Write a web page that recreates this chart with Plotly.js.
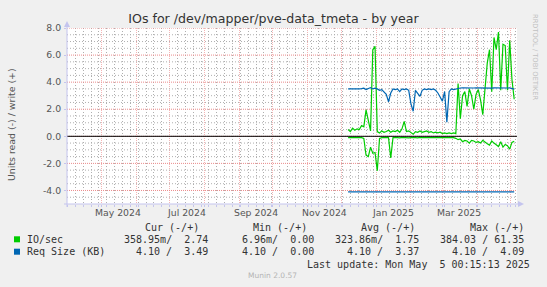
<!DOCTYPE html>
<html><head><meta charset="utf-8">
<script src="https://cdn.plot.ly/plotly-3.0.1.min.js"></script>
<style>html,body{margin:0;padding:0;background:#F0F0F0;overflow:hidden}#chart{width:547px;height:287px}</style>
</head><body><div id="chart"></div>
<script>
// ---- data (daily RRA sampled every 2 days, starting at seriesStart) ----
const seriesStart = '2024-12-07';
const stepDays = 2;
// IO/sec write (+)
const ioWrite = [0.50,0.35,0.60,0.45,0.55,0.50,0.80,0.70,1.95,1.25,
                 0.40,6.40,6.65,0.35,0.25,0.40,0.30,0.35,0.45,0.30,
                 0.40,0.35,0.45,0.30,0.55,1.10,0.35,0.40,0.30,0.15,
                 0.35,0.30,0.40,0.30,0.35,0.40,0.30,0.35,0.25,0.30,
                 0.25,0.30,0.20,0.25,0.20,0.25,0.20,0.25,0.20,3.90,
                 1.30,3.00,3.30,2.20,3.50,3.00,2.00,3.10,3.45,2.70,
                 1.60,3.30,5.40,6.40,3.30,7.30,6.40,7.70,3.40,6.80,
                 6.70,3.40,7.10,4.20,2.74];
// IO/sec read (-), drawn below zero
const ioRead = [0.10,0.08,0.10,0.08,0.10,0.08,0.10,0.15,1.40,1.50,
                0.80,1.25,1.20,2.55,0.15,0.10,0.10,0.12,0.10,1.60,
                0.10,0.08,0.10,0.12,0.08,0.10,0.08,0.12,0.10,0.08,
                0.10,0.12,0.08,0.10,0.10,0.12,0.08,0.10,0.12,0.10,
                0.08,0.12,0.10,0.10,0.12,0.10,0.12,0.10,0.15,0.25,
                0.20,0.40,0.30,0.35,0.50,0.30,0.35,0.45,0.40,0.50,
                0.30,0.45,0.55,0.65,0.35,0.50,0.60,0.75,0.40,0.80,
                0.60,0.70,0.95,0.45,0.36];
// Req Size (KB) write (+)
const reqWrite = [3.50,3.50,3.48,3.50,3.45,3.50,3.52,3.55,3.45,3.55,
                  3.60,3.50,3.55,3.50,3.40,3.45,3.30,3.10,2.55,3.20,
                  3.50,3.45,3.50,3.30,3.50,3.45,3.50,3.40,2.40,1.85,
                  3.40,3.20,2.95,3.40,3.50,3.45,3.50,3.45,3.50,3.40,
                  3.20,2.90,2.60,3.30,1.05,3.30,3.50,3.45,3.50,3.57,
                  3.57,3.58,3.57,3.56,3.58,3.57,3.57,3.58,3.57,3.56,
                  3.57,3.58,3.57,3.57,3.56,3.58,3.57,3.57,3.58,3.57,
                  3.56,3.57,3.58,3.55,3.49];
// Req Size (KB) read (-), drawn below zero
const reqRead = [4.10,4.10,4.10,4.10,4.10,4.10,4.10,4.10,4.10,4.10,
                 4.10,4.10,4.10,4.10,4.10,4.10,4.10,4.10,4.10,4.10,
                 4.10,4.10,4.10,4.10,4.10,4.10,4.10,4.10,4.10,4.10,
                 4.10,4.10,4.10,4.10,4.10,4.10,4.10,4.10,4.10,4.10,
                 4.10,4.10,4.10,4.10,4.10,4.10,4.10,4.10,4.10,4.10,
                 4.10,4.10,4.10,4.10,4.10,4.10,4.10,4.10,4.10,4.10,
                 4.10,4.10,4.10,4.10,4.10,4.10,4.10,4.10,4.10,4.10,
                 4.10,4.10,4.10,4.10,4.10];

const monthLabels = ['May 2024','Jul 2024','Sep 2024','Nov 2024','Jan 2025','Mar 2025'];
const monthLabelDates = ['2024-05-16','2024-07-16','2024-09-16','2024-11-16','2025-01-16','2025-03-16'];
const yTickVals = [-4,-2,0,2,4,6,8];
const yTickText = ['-4.0','-2.0','0.0','2.0','4.0','6.0','8.0'];
const legendNames = ['IO/sec','Req Size (KB)'];
const legendHeaders = ['Cur (-/+)','Min (-/+)','Avg (-/+)','Max (-/+)'];
const ioStats = ['358.95m/  2.74','6.96m/  0.00','323.86m/  1.75','384.03 / 61.35'];
const reqStats = ['4.10 /  3.49','4.10 /  0.00','4.10 /  3.37','4.10 /  4.09'];
const lastUpdate = 'Last update: Mon May  5 00:15:13 2025';
const titleText = 'IOs for /dev/mapper/pve-data_tmeta - by year';
const yTitle = 'Units read (-) / write (+)';

// ---- build ----
const GREEN = '#00CC00', BLUE = '#0066B3';
const W=547, H=287, L=67, R=30, T=28, B=83;
const pw = W-L-R, ph = H-T-B;
const px = x => (x-L)/pw;
const py = y => (H-B-y)/ph;
const Y0 = -5, Y1 = 8;
const XR = ['2024-03-31 12:00','2025-05-06 12:00'];

const t0 = Date.parse(seriesStart + 'T00:00:00Z');
const dates = ioWrite.map((_, i) => new Date(t0 + i*stepDays*86400000).toISOString().slice(0,10));
const neg = a => a.map(v => -v);

const AX = '#c4c4ee';
const MAJ = 'rgba(235,120,120,0.55)';
const MIN = 'rgba(110,110,110,0.55)';
const HMAJ = 'rgb(236,140,140)';
const HMIN = 'rgb(175,175,175)';
const tickFont = {family:'DejaVu Sans', size:9.3, color:'#555'};
const monoFont = {family:'DejaVu Sans Mono', size:10, color:'#333'};

// horizontal grid drawn as background line traces (minor every 0.5, major every 2)
const gridTraces = [];
for (let k = 1; k <= (Y1 - Y0) * 2; k++) {
  const v = Y0 + k * 0.5;
  const major = Math.abs(v / 2 - Math.round(v / 2)) < 1e-9;
  gridTraces.push({x: XR, y: [v, v], type:'scatter', mode:'lines', hoverinfo:'skip', showlegend:false,
    line:{color: major ? HMAJ : HMIN, width:1, dash: major ? '1px,1px' : '1px,2px'}});
}

const line = (y, color) => ({x: dates, y: y, type:'scatter', mode:'lines',
  line:{color: color, width:1.2}, hoverinfo:'skip', showlegend:false});
const traces = gridTraces.concat([
  line(neg(ioRead), GREEN), line(ioWrite, GREEN),
  line(neg(reqRead), BLUE), line(reqWrite, BLUE)
]);

const annotations = [];
monthLabels.forEach((t,i) => annotations.push({x: monthLabelDates[i], xref:'x', y: py(213), yref:'paper',
  text:t, showarrow:false, xanchor:'center', yanchor:'middle', font:tickFont}));
annotations.push({x: px(11), y: py(125), xref:'paper', yref:'paper', text: yTitle, textangle:-90,
  showarrow:false, xanchor:'center', yanchor:'middle', font:{family:'DejaVu Sans', size:9.4, color:'#555'}});
annotations.push({x: px(535.5), y: py(56.5), xref:'paper', yref:'paper', text:'RRDTOOL / TOBI OETIKER', textangle:90,
  showarrow:false, xanchor:'center', yanchor:'middle', font:{family:'DejaVu Sans', size:6.7, color:'#c0c0c0'}});

const headerRight = [200, 308, 416, 525];
const valueRight = [209, 315, 420, 525];
legendHeaders.forEach((t,i) => annotations.push({x: px(headerRight[i]), y: py(227.7), xref:'paper', yref:'paper',
  text:t.replace(/ /g,'&nbsp;'), showarrow:false, xanchor:'right', yanchor:'middle', borderpad:0, font:monoFont}));
[ioStats, reqStats].forEach((row, r) => {
  const yy = r === 0 ? 239.3 : 251.7;
  annotations.push({x: px(26), y: py(yy), xref:'paper', yref:'paper', text: legendNames[r].replace(/ /g,'&nbsp;'),
    showarrow:false, xanchor:'left', yanchor:'middle', borderpad:0, font:monoFont});
  row.forEach((t,i) => annotations.push({x: px(valueRight[i]), y: py(yy), xref:'paper', yref:'paper',
    text:t.replace(/ /g,'&nbsp;'), showarrow:false, xanchor:'right', yanchor:'middle', borderpad:0, font:monoFont}));
});
annotations.push({x: px(531), y: py(264), xref:'paper', yref:'paper', text: lastUpdate.replace(/ /g,'&nbsp;'),
  showarrow:false, xanchor:'right', yanchor:'middle', borderpad:0, font:monoFont});
annotations.push({x: px(272.5), y: py(275.7), xref:'paper', yref:'paper', text:'Munin 2.0.57',
  showarrow:false, xanchor:'center', yanchor:'middle', font:{family:'DejaVu Sans', size:7.5, color:'#b4b4b4'}});

const shapes = [
  // zero rule
  {type:'line', xref:'paper', yref:'y', x0:0, x1:1, y0:0, y1:0, line:{color:'#000', width:1}, layer:'above'},
  // axes
  {type:'line', xref:'paper', yref:'paper', x0:px(67), x1:px(67), y0:py(207), y1:py(24), line:{color:AX, width:1}, layer:'above'},
  {type:'line', xref:'paper', yref:'paper', x0:px(64), x1:px(520), y0:py(204), y1:py(204), line:{color:AX, width:1}, layer:'above'},
  // arrows
  {type:'path', xref:'paper', yref:'paper', path:`M ${px(64)} ${py(27)} L ${px(70)} ${py(27)} L ${px(67)} ${py(21)} Z`,
    fillcolor:AX, line:{width:0}, layer:'above'},
  {type:'path', xref:'paper', yref:'paper', path:`M ${px(518)} ${py(201)} L ${px(518)} ${py(207)} L ${px(524)} ${py(204)} Z`,
    fillcolor:AX, line:{width:0}, layer:'above'},
  // legend swatches
  {type:'rect', xref:'paper', yref:'paper', x0:px(14), x1:px(20), y0:py(236.3), y1:py(242.3), fillcolor:GREEN, line:{width:0}, layer:'above'},
  {type:'rect', xref:'paper', yref:'paper', x0:px(14), x1:px(20), y0:py(248.7), y1:py(254.7), fillcolor:BLUE, line:{width:0}, layer:'above'}
];

const layout = {
  width:W, height:H, margin:{l:L, r:R, t:T, b:B, pad:0},
  paper_bgcolor:'#F0F0F0', plot_bgcolor:'#FFFFFF',
  font:{family:'DejaVu Sans', size:9.3, color:'#555'},
  title:{text:titleText, x:0.5, xref:'container', y:1-19/H, yref:'container', yanchor:'middle', xanchor:'center',
    font:{family:'DejaVu Sans', size:12.6, color:'#333'}},
  xaxis:{type:'date', range:XR, tick0:'2024-04-01', dtick:'M1',
    showticklabels:false, showgrid:true, gridcolor:MAJ, griddash:'1px,1px', gridwidth:1,
    ticks:'outside', ticklen:2, tickcolor:AX, zeroline:false, showline:false, fixedrange:true,
    minor:{dtick:7*86400000, tick0:'2024-04-01', showgrid:true, gridcolor:MIN, griddash:'1px,2px', gridwidth:1,
      ticks:'outside', ticklen:2, tickcolor:AX}},
  yaxis:{range:[Y0, Y1], tickmode:'array', tickvals:yTickVals, ticktext:yTickText,
    showgrid:false, ticks:'outside', ticklen:2, tickcolor:AX, ticklabelstandoff:1, tickfont:tickFont,
    zeroline:false, showline:false, fixedrange:true},
  showlegend:false, annotations:annotations, shapes:shapes
};

Plotly.newPlot('chart', traces, layout, {displayModeBar:false, staticPlot:true});
</script>
</body></html>
